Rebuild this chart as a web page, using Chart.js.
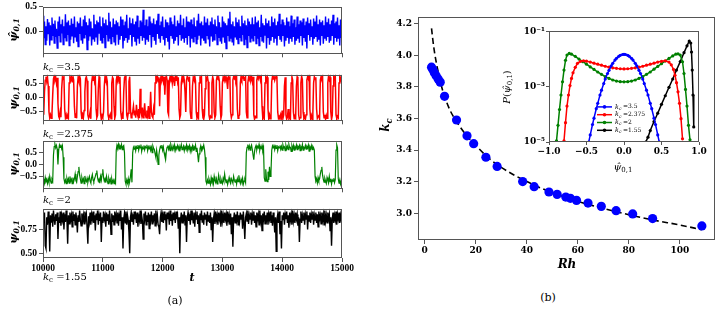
<!DOCTYPE html>
<html>
<head>
<meta charset="utf-8">
<script src="https://cdn.jsdelivr.net/npm/chart.js@4.4.1/dist/chart.umd.min.js"></script>
<style>
body{margin:0;background:#fff;width:720px;height:309px;position:relative;overflow:hidden;font-family:"DejaVu Serif",serif;}
.box{position:absolute;}
.lbl{position:absolute;white-space:nowrap;transform:translate(-50%,-50%);color:#000;line-height:1;}
.left{transform:translate(0,-50%);}
.rot{transform:translate(-50%,-50%) rotate(-90deg);}
.m{font-style:italic;font-weight:bold;}
sub{font-size:70%;vertical-align:-0.3em;line-height:0;}
</style>
</head>
<body>
<div class="box" style="left:0;top:-1px;width:345px;height:62px"><canvas id="a1"></canvas></div>
<div class="box" style="left:0;top:67px;width:345px;height:61px"><canvas id="a2"></canvas></div>
<div class="box" style="left:0;top:133px;width:345px;height:63px"><canvas id="a3"></canvas></div>
<div class="box" style="left:0;top:201px;width:360px;height:77px"><canvas id="a4"></canvas></div>
<div class="box" style="left:370px;top:10px;width:350px;height:260px"><canvas id="b"></canvas></div>
<div class="box" style="left:500px;top:25px;width:210px;height:150px"><canvas id="inset"></canvas></div>

<div class="lbl rot m" style="left:13px;top:30px;font-size:11px">ψ̂<sub>0,1</sub></div>
<div class="lbl rot m" style="left:13px;top:98px;font-size:11px">ψ<sub>0,1</sub></div>
<div class="lbl rot m" style="left:13px;top:164px;font-size:11px">ψ<sub>0,1</sub></div>
<div class="lbl rot m" style="left:13px;top:232px;font-size:11px">ψ<sub>0,1</sub></div>
<div class="lbl left" style="left:43px;top:67px;font-size:10px"><i>k</i><sub>c</sub> =3.5</div>
<div class="lbl left" style="left:43px;top:134px;font-size:10px"><i>k</i><sub>c</sub> =2.375</div>
<div class="lbl left" style="left:43px;top:200px;font-size:10px"><i>k</i><sub>c</sub> =2</div>
<div class="lbl left" style="left:43px;top:277px;font-size:10px"><i>k</i><sub>c</sub> =1.55</div>
<div class="lbl m" style="left:192px;top:277px;font-size:11px">t</div>
<div class="lbl" style="left:175px;top:300px;font-size:11px;color:#000">(a)</div>
<div class="lbl" style="left:548px;top:297px;font-size:11px;color:#000">(b)</div>
<div class="lbl m" style="left:567px;top:264px;font-size:12px">Rh</div>
<div class="lbl rot m" style="left:385px;top:125px;font-size:12px">k<sub>c</sub></div>
<div class="lbl rot" style="left:507px;top:87px;font-size:10px"><i>P</i>(<i>ψ̂</i><sub>0,1</sub>)</div>
<div class="lbl" style="left:623px;top:167px;font-size:10px"><i>ψ̂</i><sub>0,1</sub></div>

<script>
'use strict';

// time axis of panel (a): samples run evenly from 10000 to 15000
const T_START = 10000;
const T_END = 15000;
const tTicks = [10000, 11000, 12000, 13000, 14000, 15000];

// kc = 3.5
const psiKc35 = [
  0.32,-0.15,0.2,-0.28,0.1,-0.2,0.25,-0.05,0.18,-0.3,0.12,-0.18,0.28,-0.1,0.15,-0.25,0.22,-0.12,0.05,-0.35,
  0.2,-0.1,0.3,-0.22,0.14,-0.05,0.24,-0.28,0.1,-0.15,0.35,-0.2,0.18,-0.08,0.22,-0.3,0.12,-0.18,0.26,-0.1,
  0.15,-0.25,0.3,-0.12,0.08,-0.22,0.2,-0.32,0.16,-0.06,0.28,-0.18,0.1,-0.26,0.24,-0.14,0.32,-0.08,0.18,-0.38,
  0.12,-0.2,0.26,-0.1,0.2,-0.3,0.06,-0.16,0.34,-0.22,0.14,-0.12,0.22,-0.28,0.18,-0.04,0.3,-0.2,0.1,-0.24,
  0.28,-0.14,0.16,-0.34,0.24,-0.08,0.12,-0.2,0.38,-0.16,0.2,-0.26,0.08,-0.12,0.26,-0.22,0.14,-0.3,0.22,-0.06,
  0.18,-0.28,0.1,-0.18,0.3,-0.1,0.24,-0.36,0.12,-0.2,0.2,-0.14,0.34,-0.24,0.06,-0.18,0.28,-0.08,0.16,-0.32,
  0.26,-0.12,0.14,-0.22,0.2,-0.3,0.32,-0.16,0.08,-0.26,0.22,-0.1,0.18,-0.2,0.44,-0.14,0.12,-0.28,0.24,-0.18,
  0.1,-0.22,0.3,-0.08,0.2,-0.34,0.16,-0.12,0.26,-0.2,0.14,-0.28,0.22,-0.06,0.36,-0.16,0.12,-0.24,0.2,-0.1,
  0.3,-0.18,0.08,-0.3,0.24,-0.14,0.18,-0.22,0.12,-0.38,0.28,-0.1,0.2,-0.16,0.14,-0.26,0.32,-0.2,0.1,-0.12,
  0.22,-0.3,0.16,-0.08,0.34,-0.2,0.12,-0.16,0.26,-0.24,0.08,-0.14,0.3,-0.28,0.2,-0.1,0.18,-0.34,0.24,-0.16,
  0.14,-0.22,0.28,-0.12,0.1,-0.26,0.22,-0.18,0.36,-0.08,0.16,-0.3,0.2,-0.14,0.12,-0.2,0.3,-0.24,0.18,-0.1,
  0.26,-0.16,0.12,-0.32,0.2,-0.1,0.28,-0.22,0.14,-0.18,0.24,-0.06,0.1,-0.28,0.32,-0.14,0.18,-0.2,0.08,-0.26,
  0.3,-0.12,0.2,-0.24,0.16,-0.36,0.12,-0.1,0.26,-0.2,0.4,-0.16,0.14,-0.22,0.2,-0.3,0.1,-0.12,0.28,-0.18,
  0.18,-0.26,0.24,-0.14,0.1,-0.2,0.32,-0.08,0.16,-0.28,0.22,-0.18,0.12,-0.34,0.26,-0.1,0.2,-0.22,0.14,-0.16,
  0.28,-0.2,0.14,-0.1,0.3,-0.26,0.18,-0.16,0.22,-0.3,0.08,-0.12,0.34,-0.2,0.16,-0.24,0.12,-0.08,0.26,-0.36,
  0.16,-0.14,0.22,-0.28,0.1,-0.2,0.3,-0.12,0.18,-0.24,0.26,-0.16,0.12,-0.3,0.2,-0.1,0.36,-0.18,0.14,-0.22,
  0.24,-0.1,0.18,-0.32,0.12,-0.2,0.28,-0.14,0.2,-0.26,0.1,-0.16,0.32,-0.22,0.16,-0.12,0.24,-0.28,0.08,-0.2,
  0.3,-0.16,0.14,-0.24,0.22,-0.1,0.18,-0.3,0.26,-0.14,0.12,-0.22,0.2,-0.36,0.28,-0.08,0.16,-0.2,0.24,-0.12,
  0.1,-0.28,0.26,-0.16,0.2,-0.12,0.32,-0.22,0.14,-0.18,0.24,-0.3,0.18,-0.1,0.22,-0.26,0.12,-0.16,0.3,-0.2,
  0.18,-0.12,0.26,-0.24,0.14,-0.2,0.22,-0.1,0.34,-0.28,0.16,-0.14,0.2,-0.22,0.28,-0.16,0.12,-0.3,0.24,-0.14,
  0.05
];

// kc = 2.375
const psiKc2375 = [
  -0.3,-0.6,0.2,0.6,0.72,0.55,0.7,0.4,-0.5,-0.7,-0.6,-0.72,-0.55,0.1,0.65,0.75,0.6,0.7,0.5,0.68,
  -0.2,-0.65,-0.72,-0.5,-0.68,0.3,0.7,0.62,0.75,-0.4,-0.7,-0.6,-0.75,-0.62,-0.7,0.5,0.72,0.6,0.7,0.55,
  0.74,0.6,-0.3,-0.68,-0.55,-0.72,0.4,0.7,0.58,0.74,0.65,-0.5,-0.75,-0.6,-0.7,-0.45,0.2,0.65,0.72,0.58,
  -0.6,-0.72,-0.65,-0.5,-0.74,0.5,0.7,0.6,0.75,0.55,0.68,-0.4,-0.7,-0.62,0.3,0.72,0.6,-0.55,-0.75,-0.62,
  -0.7,-0.5,0.4,0.74,0.62,0.7,0.55,-0.6,-0.72,-0.66,-0.58,-0.74,0.5,0.7,0.64,-0.3,-0.72,-0.6,0.6,0.74,
  0.6,0.7,0.5,0.72,-0.5,-0.7,-0.6,-0.74,0.2,0.68,0.75,0.6,-0.6,-0.72,-0.55,0.55,0.72,-0.4,-0.7,-0.62,
  -0.5,-0.3,-0.6,-0.45,-0.7,-0.25,-0.55,-0.65,-0.4,-0.72,0.3,-0.5,-0.62,-0.35,-0.7,-0.55,-0.2,-0.6,-0.7,-0.45,
  -0.6,-0.3,-0.72,-0.55,0.2,-0.5,-0.65,-0.7,-0.4,-0.6,0.5,0.72,0.6,0.75,0.55,0.7,-0.3,0.62,0.74,0.6,
  0.7,0.55,0.72,0.1,0.68,0.75,0.6,-0.5,-0.6,0.6,0.72,0.65,0.74,0.5,0.7,0.62,0.4,0.72,0.6,0.75,
  0.55,0.7,-0.4,-0.7,-0.6,0.5,0.72,0.64,0.75,0.6,0.2,-0.5,0.6,0.74,0.68,0.55,0.72,-0.5,-0.72,-0.6,
  0.4,0.7,0.62,0.75,0.58,-0.5,-0.72,-0.62,-0.7,0.5,0.74,0.6,0.7,-0.4,-0.7,-0.75,-0.6,0.3,0.7,0.62,
  0.72,0.55,-0.6,-0.74,-0.65,-0.7,0.5,0.72,0.6,-0.5,-0.7,-0.6,0.6,0.74,0.68,0.72,0.55,-0.3,-0.72,-0.6,
  0.5,0.7,0.62,0.75,0.6,0.7,0.55,0.3,0.72,0.64,0.74,-0.5,-0.7,-0.6,0.6,0.72,0.66,0.75,0.58,0.7,
  -0.4,-0.72,-0.65,-0.6,0.5,0.74,0.62,0.7,0.75,0.6,0.68,0.72,-0.5,-0.7,0.5,0.7,0.62,0.74,0.6,0.7,
  0.55,0.72,-0.6,-0.75,-0.66,-0.7,0.6,0.74,0.65,0.76,0.7,0.58,0.72,-0.3,-0.7,-0.6,-0.74,0.5,0.72,0.62,
  0.7,-0.4,-0.72,-0.6,-0.74,-0.65,0.55,0.72,0.64,0.75,0.6,0.7,0.74,0.62,-0.5,-0.72,-0.66,-0.75,-0.6,-0.7,
  -0.45,-0.72,-0.6,0.4,0.7,-0.6,-0.75,-0.68,-0.4,-0.72,-0.62,-0.74,0.5,0.72,0.6,-0.5,-0.74,-0.65,-0.7,0.4,
  0.72,0.6,-0.6,-0.75,-0.7,0.5,0.74,0.62,-0.5,-0.72,-0.66,-0.76,-0.6,0.6,0.72,0.64,0.75,-0.4,-0.72,-0.62,
  -0.76,-0.55,0.5,0.72,0.62,0.7,-0.4,-0.72,-0.66,-0.6,-0.74,0.6,0.72,0.66,0.74,-0.5,-0.7,-0.6,-0.75,-0.62,
  -0.72,0.5,0.74,0.62,0.7,-0.5,-0.76,-0.62,0.4,0.72,0.66,0.74,-0.6,-0.72,-0.66,-0.7,0.5,0.72,0.6,0.7,
  0.55
];

// kc = 2
const psiKc2 = [
  -0.7,-0.6,-0.78,-0.55,-0.72,-0.65,-0.8,-0.6,-0.75,-0.5,-0.68,-0.78,-0.62,-0.7,0.4,0.75,0.85,0.7,0.8,0.65,
  0.0,0.6,0.82,0.72,0.84,0.66,0.78,0.3,-0.6,-0.75,-0.65,-0.8,-0.58,-0.72,-0.6,-0.78,-0.5,-0.7,-0.62,-0.8,
  -0.55,-0.72,-0.6,-0.4,-0.68,-0.75,-0.5,-0.3,-0.1,-0.45,-0.62,-0.78,-0.55,-0.7,-0.6,-0.8,-0.48,-0.66,-0.72,-0.58,
  -0.75,-0.6,-0.5,-0.7,-0.78,-0.55,-0.42,-0.65,-0.72,-0.6,-0.5,-0.38,-0.25,-0.55,-0.7,-0.62,-0.78,-0.5,-0.66,-0.4,
  -0.2,-0.55,-0.7,-0.6,-0.76,-0.5,-0.68,-0.8,-0.58,-0.72,-0.62,-0.82,-0.6,-0.75,-0.66,-0.8,-0.7,-0.78,0.6,0.82,
  0.72,0.85,0.66,0.78,0.7,0.84,0.62,0.76,0.8,0.5,-0.7,-0.82,-0.65,-0.78,-0.6,-0.84,-0.72,-0.5,-0.2,-0.75,
  0.5,0.72,0.64,0.8,0.58,0.74,0.68,0.82,0.6,0.76,0.7,0.84,0.55,0.72,0.66,0.8,0.62,0.75,0.7,0.83,
  0.58,0.74,0.66,0.8,0.6,0.72,0.5,0.78,0.68,0.62,0.45,0.3,0.6,0.35,0.0,0.4,0.62,0.76,0.7,0.82,
  0.6,0.74,0.5,0.35,0.2,0.55,0.72,0.8,0.64,0.76,0.58,0.84,0.7,0.62,0.78,0.66,0.82,0.6,0.74,0.7,
  0.8,0.64,0.76,0.55,0.72,0.84,0.62,0.7,0.78,0.58,0.74,0.66,0.82,0.6,0.76,0.7,0.8,0.56,0.72,0.64,
  0.78,0.6,0.74,0.68,0.82,0.55,0.7,0.4,0.1,0.45,0.66,0.78,0.6,0.74,0.7,0.82,0.64,0.3,-0.7,-0.8,
  -0.65,-0.78,-0.6,-0.72,-0.84,-0.55,-0.7,-0.62,-0.8,-0.5,-0.68,-0.76,-0.6,-0.82,-0.7,-0.45,-0.66,-0.78,-0.6,-0.72,
  -0.8,-0.58,-0.7,-0.4,-0.64,-0.76,-0.62,-0.84,-0.7,-0.55,-0.72,-0.8,-0.6,-0.68,-0.78,-0.5,-0.66,-0.74,-0.62,-0.82,
  -0.6,-0.72,-0.45,-0.68,-0.8,-0.62,-0.74,-0.58,-0.82,-0.7,-0.64,-0.76,0.5,0.72,0.84,0.66,0.78,0.6,0.74,0.82,
  0.64,0.4,0.2,0.55,0.72,0.8,0.62,0.76,0.7,0.84,0.6,0.74,0.68,0.8,0.58,0.72,-0.55,-0.7,-0.2,-0.6,
  -0.72,-0.3,-0.65,-0.1,-0.5,-0.3,0.6,0.78,0.7,0.84,0.62,0.76,0.68,0.82,0.58,0.74,0.7,0.8,0.64,0.76,
  0.6,0.82,0.7,0.74,0.58,0.8,0.66,0.76,0.62,0.84,0.7,0.72,0.55,0.78,0.64,0.8,0.6,0.74,0.68,0.82,
  0.62,0.76,0.7,0.8,0.58,0.74,0.66,0.84,0.6,0.72,0.68,0.8,0.64,0.76,0.7,0.82,0.56,0.74,0.66,0.8,
  0.62,0.76,0.7,0.6,-0.5,-0.7,-0.62,-0.78,-0.55,-0.68,-0.6,-0.4,-0.25,-0.1,-0.45,-0.62,-0.74,-0.58,-0.7,-0.8,
  -0.55,-0.66,-0.78,-0.5,-0.72,-0.6,-0.82,-0.65,-0.7,-0.58,-0.76,-0.64,0.6,0.82,0.7,-0.6,-0.78,-0.7,-0.82,-0.62,
  -0.72
];

// kc = 1.55
const psiKc155 = [
  0.9,0.82,0.93,0.58,0.55,0.88,0.8,0.94,0.84,0.52,0.9,0.83,0.92,0.78,0.95,0.86,0.8,0.91,0.84,0.93,
  0.65,0.88,0.82,0.94,0.79,0.9,0.85,0.93,0.75,0.91,0.83,0.95,0.86,0.6,0.9,0.81,0.93,0.85,0.9,0.78,
  0.94,0.84,0.91,0.8,0.93,0.86,0.72,0.9,0.83,0.95,0.85,0.79,0.92,0.84,0.9,0.81,0.94,0.86,0.91,0.77,
  0.6,0.89,0.83,0.93,0.8,0.91,0.86,0.94,0.82,0.9,0.74,0.92,0.85,0.95,0.8,0.9,0.84,0.93,0.62,0.88,
  0.82,0.94,0.86,0.9,0.78,0.93,0.84,0.91,0.8,0.95,0.85,0.7,0.92,0.83,0.9,0.8,0.94,0.86,0.91,0.82,
  0.93,0.79,0.9,0.84,0.95,0.75,0.88,0.55,0.86,0.92,0.82,0.94,0.8,0.9,0.85,0.72,0.5,0.88,0.93,0.83,
  0.91,0.8,0.94,0.86,0.9,0.82,0.93,0.78,0.91,0.85,0.95,0.81,0.9,0.84,0.65,0.92,0.86,0.94,0.8,0.9,
  0.83,0.93,0.76,0.91,0.85,0.94,0.81,0.9,0.86,0.92,0.79,0.95,0.84,0.9,0.8,0.78,0.7,0.88,0.93,0.83,
  0.9,0.82,0.94,0.85,0.91,0.74,0.93,0.86,0.9,0.8,0.95,0.84,0.91,0.79,0.93,0.85,0.9,0.82,0.94,0.86,
  0.9,0.76,0.88,0.5,0.85,0.93,0.82,0.91,0.86,0.94,0.8,0.9,0.62,0.88,0.93,0.84,0.91,0.8,0.95,0.85,
  0.9,0.82,0.93,0.78,0.91,0.86,0.94,0.81,0.9,0.72,0.92,0.85,0.95,0.83,0.9,0.8,0.93,0.86,0.91,0.79,
  0.94,0.84,0.9,0.82,0.93,0.75,0.88,0.62,0.86,0.92,0.81,0.94,0.85,0.9,0.8,0.93,0.86,0.91,0.78,0.95,
  0.84,0.9,0.82,0.93,0.86,0.91,0.79,0.94,0.85,0.9,0.8,0.92,0.7,0.88,0.57,0.86,0.93,0.82,0.91,0.85,
  0.94,0.8,0.9,0.84,0.93,0.86,0.91,0.76,0.94,0.82,0.65,0.88,0.92,0.84,0.95,0.81,0.9,0.86,0.93,0.8,
  0.91,0.85,0.94,0.82,0.9,0.78,0.93,0.86,0.91,0.8,0.95,0.84,0.9,0.74,0.92,0.86,0.94,0.81,0.9,0.85,
  0.93,0.8,0.91,0.86,0.94,0.82,0.9,0.79,0.93,0.85,0.72,0.88,0.52,0.86,0.91,0.82,0.94,0.7,0.84,0.55,
  0.9,0.85,0.93,0.8,0.91,0.86,0.94,0.82,0.9,0.77,0.93,0.85,0.91,0.8,0.95,0.84,0.9,0.82,0.93,0.86,
  0.91,0.79,0.88,0.62,0.86,0.94,0.82,0.9,0.85,0.93,0.8,0.91,0.86,0.94,0.75,0.9,0.84,0.93,0.82,0.91,
  0.86,0.94,0.8,0.9,0.85,0.93,0.82,0.91,0.78,0.94,0.86,0.9,0.81,0.93,0.85,0.91,0.8,0.95,0.84,0.9,
  0.82,0.93,0.86,0.91,0.74,0.88,0.58,0.86,0.93,0.82,0.9,0.85,0.94,0.8,0.91,0.86,0.93,0.82,0.9,0.85,
  0.92
];

// panel (b): critical kc against Rh
const rh = [2.7,3.2,3.8,4.5,5.3,6.1,7.8,12.5,16.6,19.2,24,28.4,38.4,42.9,48.7,51.9,55.3,57.1,59.5,64,69.2,75,81.5,89.3,108.6];
const kc = [3.925,3.91,3.89,3.87,3.85,3.83,3.74,3.59,3.49,3.44,3.354,3.296,3.2,3.168,3.134,3.119,3.102,3.094,3.081,3.064,3.043,3.016,2.995,2.966,2.919];
const fitRh = [2.7,3.5,4.5,5.5,6.5,7.8,10,12.5,16,20,25,30,40,50,60,70,80,90,100,108.6];
const fitKc = [4.17,4.06,3.96,3.88,3.81,3.74,3.65,3.58,3.5,3.43,3.35,3.29,3.2,3.13,3.075,3.03,2.99,2.955,2.925,2.895];

// inset: PDFs of psi_0,1
const kcNames = ['3.5', '2.375', '2', '1.55'];
const pdfPsi35 = [-0.47,-0.45,-0.42,-0.4,-0.37,-0.35,-0.32,-0.3,-0.27,-0.25,-0.22,-0.2,-0.17,-0.15,-0.12,-0.1,-0.07,-0.05,-0.02,0,0.02,0.05,0.07,0.1,0.12,0.15,0.17,0.2,0.22,0.25,0.27,0.3,0.32,0.35,0.37,0.4,0.42,0.45,0.47];
const pdfP35 = [1.0e-5,1.8e-5,4.3e-5,7.3e-5,1.6e-4,2.5e-4,5.0e-4,7.5e-4,1.3e-3,1.9e-3,3.0e-3,3.9e-3,5.7e-3,7.0e-3,9.2e-3,1.06e-2,1.25e-2,1.36e-2,1.46e-2,1.48e-2,1.46e-2,1.36e-2,1.25e-2,1.06e-2,9.2e-3,7.0e-3,5.7e-3,3.9e-3,3.0e-3,1.9e-3,1.3e-3,7.5e-4,5.0e-4,2.5e-4,1.6e-4,7.3e-5,4.3e-5,1.8e-5,1.0e-5];
const pdfPsi2375 = [-0.8,-0.78,-0.76,-0.74,-0.72,-0.7,-0.68,-0.65,-0.62,-0.58,-0.54,-0.5,-0.45,-0.4,-0.35,-0.3,-0.25,-0.2,-0.15,-0.1,-0.05,0,0.05,0.1,0.15,0.2,0.25,0.3,0.35,0.4,0.45,0.5,0.55,0.6,0.63,0.66,0.68,0.7,0.72,0.74,0.76,0.78];
const pdfP2375 = [1.1e-5,5e-5,2e-4,5e-4,1.1e-3,2e-3,3.2e-3,5e-3,7e-3,8.3e-3,8.6e-3,8.4e-3,7.8e-3,7.1e-3,6.5e-3,6e-3,5.5e-3,5.1e-3,4.8e-3,4.6e-3,4.45e-3,4.4e-3,4.45e-3,4.6e-3,4.8e-3,5.1e-3,5.5e-3,6e-3,6.5e-3,7.1e-3,7.8e-3,8.3e-3,8.6e-3,7.8e-3,6.2e-3,4.2e-3,2.6e-3,1.4e-3,6.5e-4,2.5e-4,7e-5,1.3e-5];
const pdfPsi2 = [-0.9,-0.88,-0.86,-0.84,-0.82,-0.8,-0.78,-0.76,-0.73,-0.7,-0.65,-0.6,-0.55,-0.5,-0.45,-0.4,-0.35,-0.3,-0.25,-0.2,-0.15,-0.1,-0.05,0,0.05,0.1,0.15,0.2,0.25,0.3,0.35,0.4,0.45,0.5,0.55,0.6,0.65,0.69,0.72,0.75,0.78,0.8,0.82,0.84,0.86,0.88];
const pdfP2 = [1.1e-5,4e-5,1.5e-4,5e-4,1.5e-3,4e-3,9e-3,1.4e-2,1.6e-2,1.5e-2,1.25e-2,1e-2,8e-3,6.5e-3,5.2e-3,4.2e-3,3.4e-3,2.8e-3,2.3e-3,2e-3,1.75e-3,1.6e-3,1.52e-3,1.5e-3,1.52e-3,1.6e-3,1.75e-3,2e-3,2.3e-3,2.8e-3,3.4e-3,4.3e-3,5.4e-3,6.8e-3,8.5e-3,1.05e-2,1.3e-2,1.5e-2,1.55e-2,1.4e-2,8e-3,3e-3,8e-4,2e-4,4e-5,1.2e-5];
const pdfPsi155 = [0.29,0.32,0.35,0.4,0.45,0.5,0.55,0.6,0.65,0.7,0.75,0.8,0.84,0.87,0.89,0.9,0.91,0.92,0.93];
const pdfP155 = [1e-5,1.5e-5,2.6e-5,5.5e-5,1.1e-4,2.3e-4,4.7e-4,9.5e-4,1.9e-3,4e-3,8.1e-3,1.7e-2,3e-2,4.5e-2,3.8e-2,1.8e-2,4e-3,5e-4,3.5e-5];

Chart.defaults.font.family = '"DejaVu Serif", serif';
const tickFont = { family: '"DejaVu Serif", serif', weight: 'bold', size: 9 };
const tickFontA = { family: '"Liberation Serif", serif', weight: 'bold', size: 9.5 };
const AXIS = '#555';

// box around the plot area, like matplotlib spines
const frame = {
  id: 'frame',
  afterDatasetsDraw(chart) {
    const a = chart.chartArea, ctx = chart.ctx;
    ctx.save();
    ctx.strokeStyle = AXIS;
    ctx.lineWidth = 1;
    ctx.strokeRect(Math.round(a.left) + 0.5, Math.round(a.top) + 0.5,
      Math.round(a.right - a.left) - 1, Math.round(a.bottom - a.top) - 1);
    ctx.restore();
  }
};

const fmt = (v, d) => v.toFixed(d).replace('-', '\u2212');

function timeSeries(id, values, color, yMin, yMax, yTicks, dec, showX, padRight, lw) {
  const step = (T_END - T_START) / (values.length - 1);
  const pts = values.map((v, i) => ({ x: T_START + i * step, y: v }));
  return new Chart(document.getElementById(id), {
    type: 'line',
    data: { datasets: [{ data: pts, borderColor: color, borderWidth: lw, pointRadius: 0, tension: 0 }] },
    options: {
      responsive: true, maintainAspectRatio: false, animation: false,
      layout: { padding: { top: 6, right: padRight, bottom: 0, left: 0 } },
      plugins: { legend: { display: false }, tooltip: { enabled: false } },
      scales: {
        x: {
          type: 'linear', min: T_START, max: T_END,
          afterBuildTicks: s => { s.ticks = tTicks.map(v => ({ value: v })); },
          ticks: { display: showX, font: tickFontA, color: '#000', maxRotation: 0, padding: 1, callback: v => String(v) },
          grid: { drawOnChartArea: false, tickLength: 4, color: AXIS },
          border: { display: false },
          afterFit: s => { s.height = showX ? 20 : 6; }
        },
        y: {
          min: yMin, max: yMax,
          afterBuildTicks: s => { s.ticks = yTicks.map(v => ({ value: v })); },
          ticks: { font: tickFontA, color: '#000', padding: 2, callback: v => fmt(v, dec) },
          grid: { drawOnChartArea: false, tickLength: 4, color: AXIS },
          border: { display: false },
          afterFit: s => { s.width = 43; }
        }
      }
    },
    plugins: [frame]
  });
}

timeSeries('a1', psiKc35, '#0000ff', -0.46, 0.505, [0, 0.5], 1, false, 3, 1.4);
timeSeries('a2', psiKc2375, '#ff0000', -0.79, 0.79, [-0.5, 0, 0.5], 1, false, 3, 1.5);
timeSeries('a3', psiKc2, '#008000', -1.0, 1.0, [-0.5, 0, 0.5], 1, false, 3, 1.2);
timeSeries('a4', psiKc155, '#000000', 0.45, 0.97, [0.5, 0.75], 2, true, 18, 1.4);

// panel (b)
new Chart(document.getElementById('b'), {
  type: 'scatter',
  data: {
    datasets: [
      { data: rh.map((x, i) => ({ x, y: kc[i] })), backgroundColor: '#0000ff', borderColor: '#0000ff',
        borderWidth: 0, pointRadius: 4.6, order: 0 },
      { data: fitRh.map((x, i) => ({ x, y: fitKc[i] })), showLine: true, borderColor: '#000',
        borderWidth: 1.6, borderDash: [6, 3.5], pointRadius: 0, cubicInterpolationMode: 'monotone', order: 1 }
    ]
  },
  options: {
    responsive: true, maintainAspectRatio: false, animation: false,
    layout: { padding: { top: 6, right: 4, bottom: 0, left: 0 } },
    plugins: { legend: { display: false }, tooltip: { enabled: false } },
    scales: {
      x: {
        type: 'linear', min: -2.6, max: 113.9,
        afterBuildTicks: s => { s.ticks = [0, 20, 40, 60, 80, 100].map(v => ({ value: v })); },
        ticks: { font: tickFont, color: '#000', maxRotation: 0, padding: 1 },
        grid: { drawOnChartArea: false, tickLength: 4, color: AXIS },
        border: { display: false },
        afterFit: s => { s.height = 30; }
      },
      y: {
        min: 2.83, max: 4.24,
        afterBuildTicks: s => { s.ticks = [3.0, 3.2, 3.4, 3.6, 3.8, 4.0, 4.2].map(v => ({ value: v })); },
        ticks: { font: tickFont, color: '#000', padding: 2, callback: v => fmt(v, 1) },
        grid: { drawOnChartArea: false, tickLength: 4, color: AXIS },
        border: { display: false },
        afterFit: s => { s.width = 48; }
      }
    }
  },
  plugins: [frame]
});

// legend drawn inside the inset, lower middle
const insetLegend = {
  id: 'insetLegend',
  afterDatasetsDraw(chart) {
    const ctx = chart.ctx, a = chart.chartArea;
    const x0 = a.left + 48, y0 = a.top + 75.5, dy = 7.8;
    chart.data.datasets.forEach((ds, i) => {
      const y = y0 + i * dy;
      ctx.save();
      ctx.strokeStyle = ds.borderColor;
      ctx.fillStyle = ds.borderColor;
      ctx.lineWidth = 1.5;
      ctx.beginPath(); ctx.moveTo(x0, y); ctx.lineTo(x0 + 15, y); ctx.stroke();
      ctx.beginPath(); ctx.arc(x0 + 7.5, y, 1.8, 0, Math.PI * 2); ctx.fill();
      ctx.fillStyle = '#000';
      ctx.textBaseline = 'middle';
      ctx.font = 'italic 6.5px "DejaVu Serif"';
      ctx.fillText('k', x0 + 18, y);
      ctx.font = 'italic 4.5px "DejaVu Serif"';
      ctx.fillText('c', x0 + 22, y + 1.8);
      ctx.font = '6px "DejaVu Serif"';
      ctx.fillText(' =' + kcNames[i], x0 + 24, y);
      ctx.restore();
    });
  }
};

const supExp = { '-1': '10\u207B\u00B9', '-3': '10\u207B\u00B3', '-5': '10\u207B\u2075' };
const pdfSet = (xs, ps, color) => ({
  data: xs.map((x, i) => ({ x, y: ps[i] })), showLine: true, borderColor: color, backgroundColor: color,
  borderWidth: 1.5, pointRadius: 1.6, pointBorderWidth: 0, tension: 0
});

new Chart(document.getElementById('inset'), {
  type: 'scatter',
  data: {
    datasets: [
      pdfSet(pdfPsi35, pdfP35, '#0000ff'),
      pdfSet(pdfPsi2375, pdfP2375, '#ff0000'),
      pdfSet(pdfPsi2, pdfP2, '#008000'),
      pdfSet(pdfPsi155, pdfP155, '#000000')
    ]
  },
  options: {
    responsive: true, maintainAspectRatio: false, animation: false,
    layout: { padding: { top: 6, right: 11, bottom: 0, left: 0 } },
    plugins: { legend: { display: false }, tooltip: { enabled: false } },
    scales: {
      x: {
        type: 'linear', min: -1, max: 1,
        afterBuildTicks: s => { s.ticks = [-1, -0.5, 0, 0.5, 1].map(v => ({ value: v })); },
        ticks: { font: tickFont, color: '#000', maxRotation: 0, padding: 1, callback: v => fmt(v, 1) },
        grid: { drawOnChartArea: false, tickLength: 3, color: AXIS },
        border: { display: false },
        afterFit: s => { s.height = 33; }
      },
      y: {
        type: 'logarithmic', min: 1e-5, max: 1e-1,
        afterBuildTicks: s => { s.ticks = [1e-5, 1e-3, 1e-1].map(v => ({ value: v })); },
        ticks: { font: tickFont, color: '#000', padding: 1, callback: v => supExp[String(Math.round(Math.log10(v)))] },
        grid: { drawOnChartArea: false, tickLength: 3, color: AXIS },
        border: { display: false },
        afterFit: s => { s.width = 49; }
      }
    }
  },
  plugins: [frame, insetLegend]
});
</script>
</body>
</html>
